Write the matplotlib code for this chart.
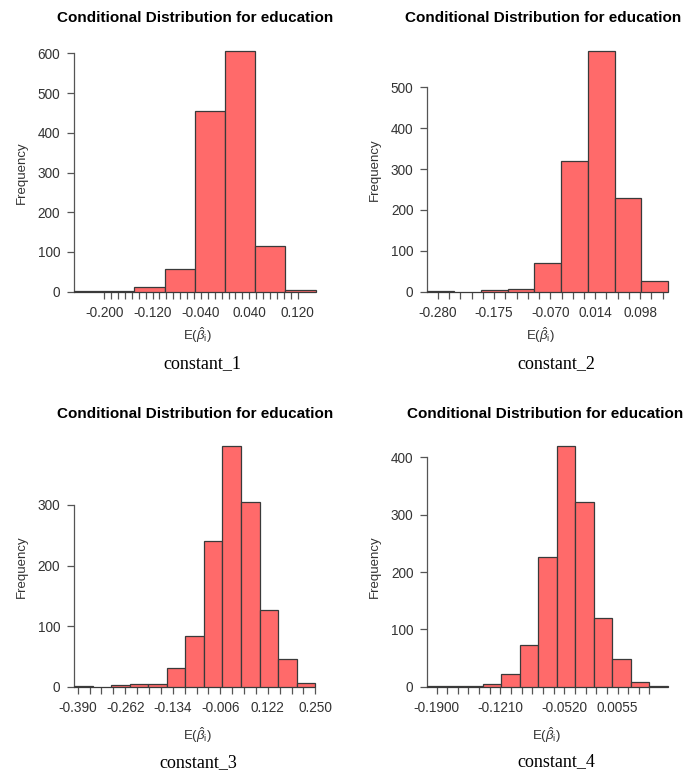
import matplotlib
matplotlib.use("Agg")
import matplotlib.pyplot as plt
import numpy as np

plt.rcParams['font.family'] = ['Liberation Sans', 'DejaVu Sans']
plt.rcParams['mathtext.fontset'] = 'custom'
plt.rcParams['mathtext.rm'] = 'Liberation Sans'
plt.rcParams['mathtext.it'] = 'Liberation Sans:italic'
plt.rcParams['mathtext.bf'] = 'Liberation Sans:bold'

# ---------------- data ----------------
edges1 = [-0.25, -0.20, -0.15, -0.10, -0.05, 0.00, 0.05, 0.10, 0.15]
counts1 = [1, 2, 12, 56, 454, 607, 116, 4]
xlab1 = ["-0.200", "-0.120", "-0.040", "0.040", "0.120"]
xlabpos1 = [-0.200, -0.120, -0.040, 0.040, 0.120]
tick_range1 = (-0.200, 0.120, 29)
yticks1 = [0, 100, 200, 300, 400, 500, 600]

edges2 = [-0.30, -0.25, -0.20, -0.15, -0.10, -0.05, 0.00, 0.05, 0.10, 0.15]
counts2 = [2, 0, 3, 7, 71, 320, 590, 230, 27]
xlab2 = ["-0.280", "-0.175", "-0.070", "0.014", "0.098"]
xlabpos2 = [-0.280, -0.175, -0.070, 0.014, 0.098]
tick_range2 = (-0.280, 0.140, 21)
yticks2 = [0, 100, 200, 300, 400, 500]

edges3 = [-0.40, -0.35, -0.30, -0.25, -0.20, -0.15, -0.10, -0.05, 0.00,
          0.05, 0.10, 0.15, 0.20, 0.25]
counts3 = [1, 0, 2, 5, 4, 31, 84, 241, 397, 305, 127, 45, 6]
xlab3 = ["-0.390", "-0.262", "-0.134", "-0.006", "0.122", "0.250"]
xlabpos3 = [-0.390, -0.262, -0.134, -0.006, 0.122, 0.250]
tick_range3 = (-0.390, 0.250, 21)
yticks3 = [0, 100, 200, 300]

edges4 = [-0.20, -0.18, -0.16, -0.14, -0.12, -0.10, -0.08, -0.06, -0.04,
          -0.02, 0.00, 0.02, 0.04, 0.06]
counts4 = [1, 2, 2, 5, 22, 73, 226, 420, 322, 120, 48, 8, 1]
xlab4 = ["-0.1900", "-0.1210", "-0.0520", "0.0055"]
xlabpos4 = [-0.1900, -0.1210, -0.0520, 0.0055]
tick_range4 = (-0.190, 0.040, 21)
yticks4 = [0, 100, 200, 300, 400]

title = "Conditional Distribution for education"
subtitles = ["constant_1", "constant_2", "constant_3", "constant_4"]

# ---------------- layout ----------------
W, H = 686, 773
fig = plt.figure(figsize=(W / 100, H / 100), dpi=100)
fig.patch.set_facecolor('white')

BAR = '#FF6A6A'
EDGE = '#3a3a3a'
AX = '#555555'
TXT = '#333333'

panels = [
    (edges1, counts1, xlab1, xlabpos1, tick_range1, yticks1, (74.0, 315.7, 291.7, 53.3)),
    (edges2, counts2, xlab2, xlabpos2, tick_range2, yticks2, (427.3, 668.0, 291.7, 87.3)),
    (edges3, counts3, xlab3, xlabpos3, tick_range3, yticks3, (74.0, 315.3, 686.7, 505.0)),
    (edges4, counts4, xlab4, xlabpos4, tick_range4, yticks4, (427.3, 668.0, 686.7, 457.3)),
]

title_pos = [(195, 18), (543, 18), (195, 414), (545, 414)]
ylab_pos = [(22, 173), (375, 170), (22, 567), (375, 567)]
elab_pos = [(197, 335), (540, 335), (197, 735), (546, 735)]
sub_pos = [(202, 364), (556, 364), (198, 763), (556, 762)]


def fx(px):
    return px / W


def fy(py):
    return 1 - py / H


for i, (edges, counts, labs, labpos, trange, yt, box) in enumerate(panels):
    x0, x1, yb, ytp = box
    ax = fig.add_axes([fx(x0), fy(yb), (x1 - x0) / W, (yb - ytp) / H])
    ax.patch.set_visible(False)
    e = np.array(edges)
    ax.bar(e[:-1], counts, width=np.diff(e), align='edge', color=BAR,
           edgecolor=EDGE, linewidth=0.9, clip_on=False, zorder=3)
    ax.set_xlim(e[0], e[-1])
    ax.set_ylim(0, yt[-1])
    for s in ['top', 'right', 'bottom']:
        ax.spines[s].set_visible(False)
    ax.spines['left'].set_bounds(0, yt[-1])
    ax.spines['left'].set_color(AX)
    ax.spines['left'].set_linewidth(0.9)

    ticks = np.linspace(*trange)
    ax.set_xticks(ticks)
    ticklabels = [''] * len(ticks)
    for lab, p in zip(labs, labpos):
        k = int(np.argmin(np.abs(ticks - p)))
        ticklabels[k] = lab
    ax.set_xticklabels(ticklabels)
    ax.set_yticks(yt)
    ax.set_yticklabels([str(v) for v in yt])
    ax.tick_params(axis='x', length=5.2, width=0.9, color=AX, pad=5.0,
                   labelsize=9.8, labelcolor=TXT)
    ax.tick_params(axis='y', length=5.0, width=0.9, color=AX, pad=5.0,
                   labelsize=9.8, labelcolor=TXT)

    tx, ty = title_pos[i]
    fig.text(fx(tx), fy(ty), title, ha='center', va='center',
             fontsize=11, fontweight='bold', color='black')
    lx, ly = ylab_pos[i]
    fig.text(fx(lx), fy(ly), "Frequency", ha='center', va='center',
             rotation=90, fontsize=9.5, color=TXT)
    ex, ey = elab_pos[i]
    fig.text(fx(ex), fy(ey), r'E($\hat{\beta}_{\mathrm{i}}$)', ha='center',
             va='center', fontsize=9.5, color=TXT)
    sx, sy = sub_pos[i]
    fig.text(fx(sx), fy(sy), subtitles[i], ha='center', va='center',
             fontsize=13, family='Liberation Serif', color='black')

fig.savefig('out.png', dpi=100, facecolor='white')
